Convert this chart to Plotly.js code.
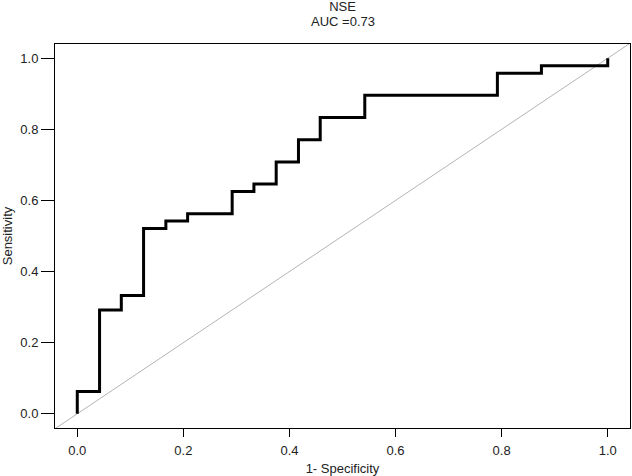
<!DOCTYPE html>
<html>
<head>
<meta charset="utf-8">
<script src="https://cdn.plot.ly/plotly-3.0.1.min.js"></script>
<style>
  html, body { margin: 0; padding: 0; background: #fff; }
  #chart { width: 632px; height: 476px; }
</style>
</head>
<body>
<div id="chart"></div>
<script>
// ROC curve points (1 - specificity, sensitivity), drawn as steps
const fpr = [0, 0.042, 0.083, 0.125, 0.167, 0.208, 0.292, 0.333, 0.375, 0.417, 0.458, 0.542, 0.792, 0.875, 1.0, 1.0];
const tpr = [0, 0.0625, 0.292, 0.333, 0.521, 0.542, 0.5625, 0.625, 0.646, 0.708, 0.771, 0.833, 0.896, 0.958, 0.979, 1.0];

const chartTitle = "NSE";
const aucLabel = "AUC =0.73";
const tickVals = [0, 0.2, 0.4, 0.6, 0.8, 1.0];
const tickText = ["0.0", "0.2", "0.4", "0.6", "0.8", "1.0"];

const xRange = [-0.042, 1.042];
const yRange = [-0.04, 1.04];
const font = "'Liberation Sans', Arial, Helvetica, sans-serif";

const roc = {
  x: fpr,
  y: tpr,
  type: "scatter",
  mode: "lines",
  line: { color: "#000000", width: 3, shape: "vh" },
  hoverinfo: "x+y",
};

const layout = {
  width: 632,
  height: 476,
  margin: { l: 55, r: 2, t: 44, b: 48 },
  paper_bgcolor: "#ffffff",
  plot_bgcolor: "#ffffff",
  showlegend: false,
  font: { family: font, size: 13, color: "#222222" },
  title: {
    text: chartTitle,
    font: { family: font, size: 13, color: "#222222" },
    x: 0.5,
    xref: "paper",
    y: 1 - 6 / 476,
    yanchor: "middle",
  },
  annotations: [
    {
      text: aucLabel,
      xref: "paper", yref: "paper",
      x: 0.5, y: 1,
      yanchor: "middle",
      yshift: 23,
      borderpad: 0,
      showarrow: false,
      font: { family: font, size: 13, color: "#222222" },
    },
  ],
  shapes: [
    {
      type: "line",
      xref: "x", yref: "y",
      x0: Math.min(xRange[0], yRange[0]), y0: Math.min(xRange[0], yRange[0]),
      x1: Math.max(xRange[1], yRange[1]), y1: Math.max(xRange[1], yRange[1]),
      line: { color: "#b4b4b4", width: 1 },
      layer: "below",
    },
  ],
  xaxis: {
    range: xRange,
    tickvals: tickVals,
    ticktext: tickText,
    ticks: "outside",
    ticklen: 8,
    ticklabelstandoff: 2,
    tickcolor: "#000",
    tickwidth: 1,
    showline: true,
    mirror: true,
    linecolor: "#000",
    linewidth: 1,
    showgrid: false,
    zeroline: false,
    title: { text: "1- Specificity", standoff: 7, font: { family: font, size: 13, color: "#222222" } },
  },
  yaxis: {
    range: yRange,
    tickvals: tickVals,
    ticktext: tickText,
    ticks: "outside",
    ticklen: 13,
    tickcolor: "#000",
    tickwidth: 1,
    showline: true,
    mirror: true,
    linecolor: "#000",
    linewidth: 1,
    showgrid: false,
    zeroline: false,
    title: { text: "Sensitivity", standoff: 6, font: { family: font, size: 13, color: "#222222" } },
  },
};

Plotly.newPlot("chart", [roc], layout, { displayModeBar: false, staticPlot: true });
</script>
</body>
</html>
